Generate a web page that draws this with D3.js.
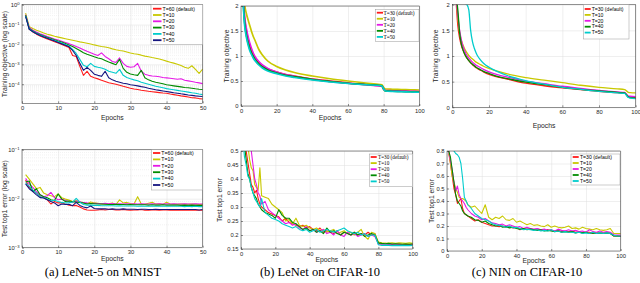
<!DOCTYPE html>
<html><head><meta charset="utf-8">
<script src="https://cdn.jsdelivr.net/npm/d3@7"></script>
<style>body{margin:0;background:#fff}svg{display:block}</style>
</head><body>
<svg id="c" width="640" height="283"></svg>
<script>
// ---------------- DATA ----------------
const labelsMnist = ["T=60 (default)","T=10","T=20","T=30","T=40","T=50"];
const labelsCifar = ["T=30 (default)","T=10","T=20","T=40","T=50"];

// (a) LeNet-5 on MNIST: training objective (log scale), epochs 1..50
const mnistEpochs = [1,2,3,4,5,6,7,8,9,10,11,12,13,14,15,16,17,18,19,20,21,22,23,24,25,26,27,28,29,30,31,32,33,34,35,36,37,38,39,40,41,42,43,44,45,46,47,48,49,50];
const mnistTrainT60 = [0.28,6.0e-2,4.27e-2,3.31e-2,2.69e-2,2.24e-2,1.91e-2,1.62e-2,1.38e-2,1.17e-2, 1.0e-2,8.5e-3,7.1e-3,2.8e-3,2.5e-3,7.9e-4,2.8e-4,4.5e-4,2.5e-4,2.1e-4, 1.86e-4,1.58e-4,1.38e-4,1.2e-4,1.1e-4,1.0e-4,8.9e-5,7.9e-5,7.1e-5,6.3e-5, 5.75e-5,5.4e-5,5.0e-5,4.7e-5,4.4e-5,4.2e-5,4.0e-5,3.8e-5,3.6e-5,3.5e-5, 3.2e-5,3.0e-5,2.8e-5,2.6e-5,2.45e-5,2.3e-5,2.1e-5,2.05e-5,1.9e-5,1.8e-5];
const mnistTrainT10 = [0.38,7.9e-2,6.3e-2,5.25e-2,4.5e-2,3.8e-2,3.3e-2,2.95e-2,2.6e-2,2.35e-2, 2.14e-2,1.95e-2,1.78e-2,1.62e-2,1.48e-2,1.35e-2,1.26e-2,1.15e-2,1.05e-2,9.5e-3, 8.7e-3,7.9e-3,7.4e-3,6.8e-3,6.0e-3,5.4e-3,5.0e-3,4.7e-3,4.2e-3,3.7e-3, 3.4e-3,3.2e-3,2.9e-3,2.6e-3,2.4e-3,2.2e-3,2.04e-3,1.86e-3,1.66e-3,1.45e-3, 1.29e-3,1.15e-3,1.02e-3,8.7e-4,7.1e-4,6.3e-4,8.5e-4,5.6e-4,3.5e-4,5.8e-4];
const mnistTrainT20 = [0.32,7.1e-2,5.25e-2,4.2e-2,3.5e-2,2.95e-2,2.5e-2,2.2e-2,1.9e-2,1.66e-2, 1.45e-2,1.26e-2,1.1e-2,9.5e-3,7.9e-3,6.6e-3,5.5e-3,4.5e-3,3.8e-3,3.2e-3, 2.8e-3,3.8e-3,2.5e-3,1.9e-3,1.4e-3,1.26e-3,2.1e-3,1.12e-3,7.9e-4,7.1e-4, 7.6e-4,1.12e-3,4.5e-4,3.2e-4,2.8e-4,2.6e-4,2.5e-4,2.4e-4,2.2e-4,2.1e-4, 2.0e-4,1.9e-4,1.78e-4,1.9e-4,1.58e-4,1.48e-4,1.38e-4,1.26e-4,1.17e-4,1.07e-4];
const mnistTrainT30 = [0.3,6.3e-2,4.8e-2,3.8e-2,3.2e-2,2.7e-2,2.3e-2,2.0e-2,1.74e-2,1.5e-2, 1.32e-2,1.12e-2,9.5e-3,7.9e-3,6.3e-3,5.0e-3,3.8e-3,3.2e-3,2.8e-3,2.4e-3, 2.1e-3,1.9e-3,1.58e-3,1.32e-3,1.12e-3,9.5e-4,1.78e-3,6.3e-4,4.0e-4,3.3e-4, 3.0e-4,2.8e-4,5.0e-4,2.1e-4,1.66e-4,1.41e-4,1.26e-4,1.15e-4,1.05e-4,9.5e-5, 8.9e-5,8.3e-5,7.8e-5,7.4e-5,6.9e-5,6.6e-5,6.3e-5,5.9e-5,5.6e-5,5.4e-5];
const mnistTrainT40 = [0.27,6.0e-2,4.5e-2,3.55e-2,2.95e-2,2.5e-2,2.14e-2,1.82e-2,1.58e-2,1.38e-2, 1.17e-2,1.0e-2,8.3e-3,5.6e-3,3.55e-3,1.78e-3,8.9e-4,7.6e-4,1.12e-3,7.9e-4, 7.1e-4,6.6e-4,5.6e-4,4.5e-4,4.0e-4,3.55e-4,5.6e-4,2.8e-4,2.2e-4,1.9e-4, 1.66e-4,1.51e-4,1.26e-4,1.12e-4,1.0e-4,8.9e-5,7.9e-5,7.2e-5,6.6e-5,6.0e-5, 5.6e-5,5.25e-5,4.9e-5,4.6e-5,4.3e-5,4.0e-5,3.7e-5,3.5e-5,3.2e-5,3.0e-5];
const mnistTrainT50 = [0.26,5.8e-2,4.4e-2,3.5e-2,2.8e-2,2.4e-2,2.04e-2,1.74e-2,1.48e-2,1.26e-2, 1.07e-2,9.1e-3,7.6e-3,5.0e-3,2.8e-3,1.12e-3,5.0e-4,7.1e-4,5.0e-4,3.2e-4, 2.8e-4,2.5e-4,4.5e-4,2.1e-4,1.66e-4,1.41e-4,1.26e-4,1.12e-4,1.05e-4,9.5e-5, 8.9e-5,8.3e-5,7.6e-5,7.1e-5,6.3e-5,5.75e-5,5.25e-5,4.9e-5,4.6e-5,4.3e-5, 4.0e-5,3.7e-5,3.55e-5,3.3e-5,3.1e-5,2.9e-5,2.75e-5,2.6e-5,2.5e-5,2.4e-5];

// (a) LeNet-5 on MNIST: test top1 error (log scale)
const mnistTestT60 = [0.024,0.017,0.015,0.013,0.011,0.0105,0.0095,0.0078,0.0088,0.0082, 0.0083,0.0078,0.0074,0.0072,0.0073,0.0068,0.0062,0.0059,0.0058,0.0058, 0.0059,0.006,0.0059,0.006,0.006,0.0059,0.0059,0.006,0.0059,0.0058, 0.0059,0.0059,0.006,0.0058,0.0058,0.0059,0.0059,0.0058,0.0059,0.0059, 0.0058,0.0058,0.0059,0.0058,0.0058,0.0059,0.0058,0.0058,0.0058,0.0058];
const mnistTestT10 = [0.031,0.025,0.02,0.016,0.017,0.013,0.012,0.0115,0.011,0.0125, 0.0105,0.0098,0.0094,0.0088,0.0092,0.0085,0.0083,0.0079,0.0086,0.0082, 0.0081,0.0078,0.0078,0.0079,0.0082,0.0076,0.0095,0.0082,0.0084,0.008, 0.0078,0.011,0.0078,0.0077,0.0081,0.0085,0.0078,0.0079,0.0076,0.0085, 0.0078,0.0077,0.0077,0.0078,0.0077,0.0077,0.0078,0.0077,0.0076,0.0077];
const mnistTestT20 = [0.026,0.02,0.017,0.014,0.012,0.011,0.0115,0.0135,0.0105,0.0095, 0.0098,0.0092,0.0088,0.0085,0.009,0.0087,0.0083,0.0082,0.008,0.0081, 0.008,0.0079,0.0081,0.0079,0.008,0.0078,0.0079,0.0078,0.0079,0.0078, 0.0079,0.0078,0.0079,0.0078,0.0078,0.0079,0.0078,0.0079,0.0078,0.0079, 0.0078,0.0079,0.0078,0.0078,0.0079,0.0078,0.0078,0.0079,0.0078,0.0078];
const mnistTestT30 = [0.022,0.023,0.014,0.016,0.012,0.011,0.0105,0.0095,0.0092,0.0125, 0.0098,0.0088,0.009,0.0087,0.0085,0.0084,0.0082,0.0078,0.008,0.0079, 0.0078,0.0078,0.0077,0.0076,0.0076,0.0077,0.0076,0.0076,0.0075,0.0076, 0.0075,0.0075,0.0075,0.0075,0.0074,0.0075,0.0074,0.0074,0.0075,0.0074, 0.0074,0.0074,0.0074,0.0073,0.0074,0.0073,0.0074,0.0073,0.0073,0.0073];
const mnistTestT40 = [0.021,0.018,0.015,0.013,0.011,0.0105,0.0098,0.009,0.0093,0.0088, 0.0084,0.0082,0.0083,0.0085,0.0102,0.0085,0.0076,0.0074,0.0074,0.0073, 0.0073,0.0072,0.0072,0.0072,0.0072,0.0071,0.0072,0.0071,0.0071,0.0071, 0.0071,0.007,0.0071,0.007,0.007,0.0071,0.007,0.007,0.007,0.007, 0.007,0.007,0.007,0.007,0.0069,0.007,0.0069,0.007,0.0069,0.0069];
const mnistTestT50 = [0.02,0.016,0.014,0.012,0.0105,0.0103,0.0095,0.0088,0.0082,0.0072, 0.0078,0.0076,0.0077,0.0072,0.0084,0.0073,0.0068,0.0065,0.0071,0.0063, 0.0062,0.0062,0.0062,0.0061,0.0062,0.0061,0.0061,0.0062,0.0061,0.0061, 0.0061,0.006,0.0061,0.0061,0.006,0.006,0.0061,0.006,0.006,0.006, 0.006,0.006,0.006,0.006,0.006,0.006,0.006,0.006,0.0059,0.006];

// (b) LeNet on CIFAR-10: training objective
const lenetTrainEpochs = [1,2,3,4,5,6,7,8,10,12,15,20,25,30,40,50,60,70,78,79,80,81,85,90,95,100];
const lenetTrainT30 = [2.3,1.75,1.5,1.33,1.2,1.1,1.02,0.96,0.87,0.8,0.74,0.68,0.63,0.6,0.54,0.5,0.46,0.43,0.405,0.4,0.34,0.31,0.305,0.3,0.295,0.29];
const lenetTrainT10 = [2.6,2.05,1.85,1.72,1.6,1.48,1.38,1.3,1.13,1.02,0.9,0.79,0.72,0.67,0.6,0.545,0.5,0.46,0.43,0.425,0.37,0.34,0.335,0.33,0.325,0.32];
const lenetTrainT20 = [2.35,1.8,1.55,1.38,1.25,1.14,1.05,0.98,0.89,0.82,0.75,0.68,0.63,0.595,0.535,0.49,0.455,0.425,0.4,0.395,0.34,0.31,0.305,0.3,0.295,0.29];
const lenetTrainT40 = [2.25,1.68,1.42,1.26,1.14,1.05,0.98,0.92,0.84,0.78,0.72,0.66,0.615,0.585,0.53,0.49,0.455,0.43,0.41,0.405,0.34,0.3,0.295,0.29,0.285,0.28];
const lenetTrainT50 = [2.2,1.62,1.38,1.22,1.1,1.02,0.95,0.9,0.82,0.76,0.7,0.645,0.6,0.57,0.52,0.48,0.45,0.425,0.41,0.4,0.34,0.3,0.29,0.285,0.28,0.275];

// (c) NIN on CIFAR-10: training objective
const ninTrainEpochs = [1,2,3,4,5,6,7,8,9,10,11,12,13,14,15,17,20,25,30,40,50,60,70,80,90,94,95,96,97,100];
const ninTrainT30 = [2.5,2.1,1.6,1.35,1.2,1.1,1.02,0.96,0.91,0.87, 0.83,0.8,0.77,0.75,0.73,0.69,0.64,0.59,0.55,0.47, 0.42,0.38,0.345,0.31,0.285,0.275,0.25,0.21,0.2,0.19];
const ninTrainT10 = [2.6,2.2,1.75,1.45,1.3,1.2,1.12,1.06,1.01,0.97, 0.94,0.91,0.88,0.86,0.84,0.8,0.76,0.7,0.65,0.58, 0.53,0.48,0.43,0.39,0.36,0.345,0.32,0.29,0.285,0.28];
const ninTrainT20 = [2.5,2.15,1.8,1.5,1.3,1.17,1.08,1.01,0.96,0.92, 0.88,0.85,0.82,0.8,0.78,0.74,0.69,0.63,0.59,0.51, 0.46,0.41,0.37,0.33,0.3,0.29,0.25,0.22,0.215,0.21];
const ninTrainT40 = [2.5,2.2,1.9,1.45,1.22,1.1,1.02,0.96,0.91,0.87, 0.84,0.81,0.78,0.76,0.74,0.7,0.66,0.6,0.56,0.49, 0.44,0.39,0.35,0.32,0.29,0.28,0.24,0.2,0.19,0.18];
const ninTrainT50 = [2.6,2.5,2.4,2.3,2.2,2.1,2.02,2.0,1.9,1.5, 1.28,1.15,1.06,0.99,0.94,0.86,0.78,0.69,0.62,0.52, 0.45,0.39,0.35,0.31,0.28,0.27,0.23,0.19,0.18,0.17];

// test-error epochs for (b) and (c)
const cifarTestEpochs = [1,2,3,4,5,6,7,8,9,10,11,12, 14,16,18,20,22,24,26,28,30, 32,34,36,38,40,42,44,46,48,50, 52,54,56,58,60,62,64,66,68,70, 72,74,76,78,80,82,84,86,88,90, 92,94,96,98,100];

// (b) LeNet on CIFAR-10: test top1 error
const lenetTestT30 = [0.62,0.55,0.5,0.46,0.42,0.38,0.37,0.35,0.36,0.33,0.31,0.3, 0.29,0.28,0.275,0.27,0.265,0.25,0.26,0.245,0.24, 0.235,0.23,0.235,0.225,0.23,0.22,0.215,0.225,0.21,0.215, 0.21,0.205,0.215,0.2,0.21,0.205,0.2,0.21,0.2,0.205, 0.2,0.21,0.2,0.205,0.17,0.168,0.17,0.168,0.167,0.168, 0.168,0.166,0.167,0.166,0.167];
const lenetTestT10 = [0.75,0.65,0.58,0.52,0.47,0.44,0.43,0.38,0.37,0.36,0.44,0.34, 0.335,0.33,0.31,0.3,0.29,0.28,0.25,0.255,0.24, 0.26,0.235,0.23,0.235,0.225,0.22,0.225,0.215,0.22,0.21, 0.215,0.22,0.205,0.21,0.215,0.205,0.21,0.2,0.21,0.22, 0.195,0.185,0.21,0.205,0.175,0.172,0.17,0.171,0.172,0.17, 0.172,0.171,0.17,0.172,0.17];
const lenetTestT20 = [0.72,0.62,0.56,0.53,0.51,0.5,0.45,0.4,0.38,0.35,0.34,0.31, 0.32,0.29,0.28,0.27,0.26,0.25,0.24,0.245,0.235, 0.24,0.225,0.22,0.23,0.215,0.22,0.21,0.215,0.22,0.205, 0.21,0.2,0.215,0.2,0.195,0.21,0.2,0.205,0.195,0.2, 0.205,0.195,0.2,0.195,0.168,0.167,0.168,0.166,0.167,0.166, 0.167,0.165,0.166,0.165,0.166];
const lenetTestT40 = [0.6,0.52,0.47,0.42,0.4,0.37,0.35,0.34,0.33,0.31,0.3,0.29, 0.28,0.275,0.27,0.26,0.29,0.27,0.26,0.26,0.245, 0.24,0.23,0.22,0.225,0.215,0.22,0.21,0.215,0.205,0.225, 0.21,0.215,0.205,0.2,0.21,0.205,0.2,0.21,0.2,0.205, 0.195,0.2,0.205,0.2,0.172,0.17,0.169,0.17,0.168,0.169, 0.168,0.167,0.168,0.167,0.168];
const lenetTestT50 = [0.55,0.48,0.45,0.41,0.4,0.37,0.35,0.33,0.32,0.31,0.3,0.33, 0.28,0.27,0.26,0.255,0.25,0.24,0.235,0.23,0.225, 0.23,0.22,0.215,0.22,0.21,0.215,0.22,0.21,0.215,0.22, 0.215,0.21,0.215,0.22,0.225,0.215,0.21,0.205,0.21,0.2, 0.205,0.195,0.2,0.2,0.165,0.163,0.164,0.163,0.162,0.163, 0.162,0.163,0.162,0.162,0.163];

// (c) NIN on CIFAR-10: test top1 error
const ninTestT30 = [0.78,0.7,0.6,0.5,0.45,0.38,0.4,0.42,0.34,0.3,0.29,0.28, 0.26,0.24,0.25,0.23,0.22,0.21,0.2,0.2,0.195, 0.2,0.19,0.195,0.185,0.19,0.17,0.18,0.175,0.18,0.17, 0.175,0.17,0.165,0.17,0.165,0.16,0.165,0.155,0.16,0.155, 0.16,0.15,0.155,0.145,0.15,0.15,0.14,0.145,0.14,0.145, 0.14,0.145,0.12,0.118,0.117];
const ninTestT10 = [0.8,0.7,0.6,0.55,0.5,0.47,0.43,0.42,0.42,0.41,0.4,0.37, 0.35,0.36,0.33,0.3,0.37,0.27,0.25,0.27,0.26, 0.28,0.25,0.245,0.26,0.23,0.24,0.225,0.21,0.22,0.205, 0.21,0.2,0.195,0.21,0.19,0.2,0.19,0.185,0.19,0.2, 0.18,0.185,0.175,0.19,0.18,0.175,0.17,0.18,0.17,0.165, 0.17,0.18,0.14,0.14,0.14];
const ninTestT20 = [0.8,0.72,0.65,0.55,0.48,0.52,0.45,0.42,0.4,0.38,0.35,0.33, 0.3,0.28,0.27,0.25,0.26,0.24,0.225,0.22,0.21, 0.215,0.2,0.21,0.2,0.19,0.195,0.18,0.19,0.18,0.175, 0.18,0.17,0.175,0.165,0.17,0.16,0.175,0.165,0.16,0.17, 0.16,0.165,0.155,0.16,0.15,0.17,0.155,0.15,0.16,0.15, 0.155,0.15,0.13,0.128,0.127];
const ninTestT40 = [0.8,0.75,0.65,0.55,0.45,0.4,0.38,0.36,0.32,0.3,0.29,0.28, 0.27,0.25,0.245,0.23,0.24,0.22,0.21,0.2,0.205, 0.19,0.195,0.185,0.19,0.18,0.175,0.18,0.17,0.175,0.17, 0.165,0.17,0.16,0.165,0.16,0.155,0.16,0.15,0.155,0.15, 0.155,0.145,0.15,0.145,0.15,0.14,0.145,0.14,0.145,0.14, 0.145,0.14,0.12,0.12,0.118];
const ninTestT50 = [0.85,0.85,0.84,0.8,0.78,0.77,0.75,0.7,0.58,0.43,0.4,0.37, 0.34,0.3,0.28,0.26,0.25,0.24,0.22,0.21,0.205, 0.2,0.19,0.2,0.185,0.19,0.18,0.17,0.175,0.17,0.165, 0.17,0.16,0.165,0.16,0.17,0.155,0.16,0.15,0.155,0.15, 0.15,0.145,0.15,0.14,0.145,0.14,0.15,0.14,0.145,0.14, 0.145,0.14,0.125,0.12,0.118];

// tick values
const xTicks50 = [0,10,20,30,40,50];
const xTicks100 = [0,20,40,60,80,100];
const yTicksTrainLog = [1,1e-1,1e-2,1e-3,1e-4];
const yTicksTestLog = [1e-1,1e-2,1e-3];
const yTicksTrain = [0,0.5,1,1.5,2];
const yTicksLenetTest = [0.15,0.2,0.25,0.3,0.35,0.4,0.45,0.5];
const yTicksNinTest = [0,0.1,0.2,0.3,0.4,0.5,0.6,0.7,0.8];
const captions = ["(a) LeNet-5 on MNIST","(b) LeNet on CIFAR-10","(c) NIN on CIFAR-10"];

// ---------------- DRAWING ----------------
const RED='#ff1a1a', YEL='#c8c800', MAG='#e619e6', GRN='#008c00', CYA='#00cccc', BLU='#14147f';
const mnistColors=[RED,YEL,MAG,GRN,CYA,BLU];
const cifarColors=[RED,YEL,MAG,GRN,CYA];
const SANS='"Liberation Sans", Arial, Helvetica, sans-serif';
const SERIF='"Liberation Serif", "Times New Roman", serif';
const TXT='#262626';
const svg=d3.select('#c');
const defs=svg.append('defs');

function minorLog(lo,hi){const v=[];for(let e=lo;e<hi;e++){for(let k=2;k<=9;k++)v.push(k*Math.pow(10,e));}return v;}
const numFmt=d=>String(+d.toFixed(2));

function panel(o){
  const g=svg.append('g');
  const x=d3.scaleLinear().domain(o.xd).range([o.l,o.r]);
  const y=(o.log?d3.scaleLog():d3.scaleLinear()).domain(o.yd).range([o.b,o.t]);
  const w=o.r-o.l,h=o.b-o.t;
  const styleGrid=(s,c,dash)=>{s.select('.domain').remove();s.selectAll('line').attr('stroke',c).attr('stroke-width',0.5).attr('stroke-dasharray',dash||null);};
  if(o.minor){
    g.append('g').attr('transform',`translate(${o.l},0)`)
      .call(d3.axisLeft(y).tickValues(o.minor).tickSize(-w).tickFormat(''))
      .call(s=>styleGrid(s,'#e4e4e4','1,1'));
  }
  g.append('g').attr('transform',`translate(0,${o.b})`)
    .call(d3.axisBottom(x).tickValues(o.xt).tickSize(-h).tickFormat(''))
    .call(s=>styleGrid(s,'#dedede'));
  g.append('g').attr('transform',`translate(${o.l},0)`)
    .call(d3.axisLeft(y).tickValues(o.yt).tickSize(-w).tickFormat(''))
    .call(s=>styleGrid(s,'#dedede'));

  defs.append('clipPath').attr('id','cp'+o.id).append('rect')
    .attr('x',o.l).attr('y',o.t).attr('width',w).attr('height',h);
  const line=d3.line().x(d=>x(d[0])).y(d=>y(d[1])).curve(o.curve||d3.curveLinear);
  const lg=g.append('g').attr('clip-path',`url(#cp${o.id})`);
  o.series.forEach((s,i)=>{
    const pts=o.epochs.map((e,j)=>[e,s[j]]).filter(d=>d[1]!=null);
    lg.append('path').datum(pts).attr('d',line).attr('fill','none')
      .attr('stroke',o.colors[i]).attr('stroke-width',o.lw).attr('stroke-linejoin','round');
  });

  const ax=g.append('g').attr('transform',`translate(0,${o.b})`)
    .call(d3.axisBottom(x).tickValues(o.xt).tickSizeInner(-2).tickSizeOuter(0).tickPadding(2.5).tickFormat(d3.format('d')));
  const ay=g.append('g').attr('transform',`translate(${o.l},0)`)
    .call(d3.axisLeft(y).tickValues(o.yt).tickSizeInner(-2).tickSizeOuter(0).tickPadding(2.5).tickFormat(o.log?(d=>'10'):numFmt));
  [ax,ay].forEach(a=>{
    a.attr('font-size',5.8).attr('font-family',SANS);
    a.select('.domain').remove();
    a.selectAll('line').attr('stroke',TXT).attr('stroke-width',0.5);
    a.selectAll('text').attr('fill',TXT);
  });
  if(o.log){
    ay.selectAll('.tick text').each(function(d){
      const t=d3.select(this);t.text(null);
      t.append('tspan').text('10');
      t.append('tspan').attr('dy','-0.5em').attr('font-size','0.72em').text(String(Math.round(Math.log10(d))).replace('-','\u2212'));
    });
  }
  g.append('rect').attr('x',o.l).attr('y',o.t).attr('width',w).attr('height',h)
    .attr('fill','none').attr('stroke',TXT).attr('stroke-width',0.5);

  g.append('text').attr('x',(o.l+o.r)/2).attr('y',o.xTitleY).attr('dy','0.35em')
    .attr('text-anchor','middle').attr('fill',TXT).style('font',`6.8px ${SANS}`).text('Epochs');
  g.append('text').attr('transform',`translate(${o.yTitleX},${(o.t+o.b)/2}) rotate(-90)`).attr('dy','0.35em')
    .attr('text-anchor','middle').attr('fill',TXT).style('font',`6.8px ${SANS}`).text(o.yTitle);

  const L=o.leg;
  const lgd=g.append('g');
  lgd.append('rect').attr('x',L.x).attr('y',L.y).attr('width',L.w).attr('height',L.h)
    .attr('fill','#fff').attr('stroke','#9a9a9a').attr('stroke-width',0.5);
  o.labels.forEach((lab,i)=>{
    const yy=L.r0+i*L.dy;
    lgd.append('line').attr('x1',L.x1).attr('x2',L.x2).attr('y1',yy).attr('y2',yy)
      .attr('stroke',o.colors[i]).attr('stroke-width',1.8);
    lgd.append('text').attr('x',L.tx).attr('y',yy).attr('dy','0.35em').attr('fill','#000')
      .style('font',`${L.fs}px ${L.font}`).text(lab);
  });
}

panel({id:1,l:22,r:202.7,t:4.7,b:103.3,xd:[0,50],yd:[1.1e-5,1],log:true,minor:minorLog(-5,0),
  xt:xTicks50,yt:yTicksTrainLog,epochs:mnistEpochs,
  series:[mnistTrainT60,mnistTrainT10,mnistTrainT20,mnistTrainT30,mnistTrainT40,mnistTrainT50],
  colors:mnistColors,labels:labelsMnist,lw:1.1,xTitleY:118,yTitleX:4.5,yTitle:'Training objective (log scale)',
  leg:{x:151,y:4.7,w:51.7,h:39.6,r0:8.7,dy:6.3,x1:153,x2:161.5,tx:162.5,fs:5.2,font:SANS}});

panel({id:2,l:241,r:419.3,t:6,b:106,xd:[0,100],yd:[0,2],
  xt:xTicks100,yt:yTicksTrain,epochs:lenetTrainEpochs,curve:d3.curveMonotoneX,
  series:[lenetTrainT30,lenetTrainT10,lenetTrainT20,lenetTrainT40,lenetTrainT50],
  colors:cifarColors,labels:labelsCifar,lw:1.7,xTitleY:118,yTitleX:226.7,yTitle:'Training objective',
  leg:{x:375.7,y:9.3,w:43.3,h:32,r0:12.7,dy:6.05,x1:376.8,x2:383,tx:383.5,fs:5.3,font:SERIF}});

panel({id:3,l:452.3,r:635.7,t:4.7,b:107.3,xd:[0,100],yd:[0,2],
  xt:xTicks100,yt:yTicksTrain,epochs:ninTrainEpochs,curve:d3.curveMonotoneX,
  series:[ninTrainT30,ninTrainT10,ninTrainT20,ninTrainT40,ninTrainT50],
  colors:cifarColors,labels:labelsCifar,lw:1.3,xTitleY:126,yTitleX:436,yTitle:'Training objective',
  leg:{x:583.3,y:4.7,w:45.7,h:34.3,r0:9,dy:5.9,x1:584.7,x2:590.7,tx:591.7,fs:5.1,font:SANS}});

panel({id:4,l:22,r:202.7,t:149.7,b:247.7,xd:[0,50],yd:[1e-3,1e-1],log:true,minor:minorLog(-3,-1),
  xt:xTicks50,yt:yTicksTestLog,epochs:mnistEpochs,
  series:[mnistTestT60,mnistTestT10,mnistTestT20,mnistTestT30,mnistTestT40,mnistTestT50],
  colors:mnistColors,labels:labelsMnist,lw:1.1,xTitleY:258.5,yTitleX:5,yTitle:'Test top1 error (log scale)',
  leg:{x:151.7,y:149.7,w:50.6,h:40.3,r0:153,dy:6.4,x1:153,x2:160.3,tx:161.3,fs:5.2,font:SANS}});

panel({id:5,l:241,r:412.7,t:151,b:249,xd:[0,100],yd:[0.15,0.5],
  xt:xTicks100,yt:yTicksLenetTest,epochs:cifarTestEpochs,
  series:[lenetTestT30,lenetTestT10,lenetTestT20,lenetTestT40,lenetTestT50],
  colors:cifarColors,labels:labelsCifar,lw:1.1,xTitleY:259.5,yTitleX:219.3,yTitle:'Test top1 error',
  leg:{x:369.3,y:154,w:43.4,h:32.7,r0:157,dy:6.1,x1:370.7,x2:376.7,tx:378,fs:5.2,font:SERIF}});

panel({id:6,l:447,r:620.7,t:151,b:251,xd:[0,100],yd:[0,0.8],
  xt:xTicks100,yt:yTicksNinTest,epochs:cifarTestEpochs,
  series:[ninTestT30,ninTestT10,ninTestT20,ninTestT40,ninTestT50],
  colors:cifarColors,labels:labelsCifar,lw:1.1,xTitleY:260.5,yTitleX:431.7,yTitle:'Test top1 error',
  leg:{x:571,y:154,w:49,h:31,r0:157,dy:6,x1:572.7,x2:578.7,tx:580,fs:5.1,font:SANS}});

// captions
const capX=[103,320,527];
captions.forEach((c,i)=>{
  svg.append('text').attr('x',capX[i]).attr('y',276).attr('text-anchor','middle')
    .attr('fill','#000').style('font',`12.5px ${SERIF}`).text(c);
});
</script>
</body></html>
